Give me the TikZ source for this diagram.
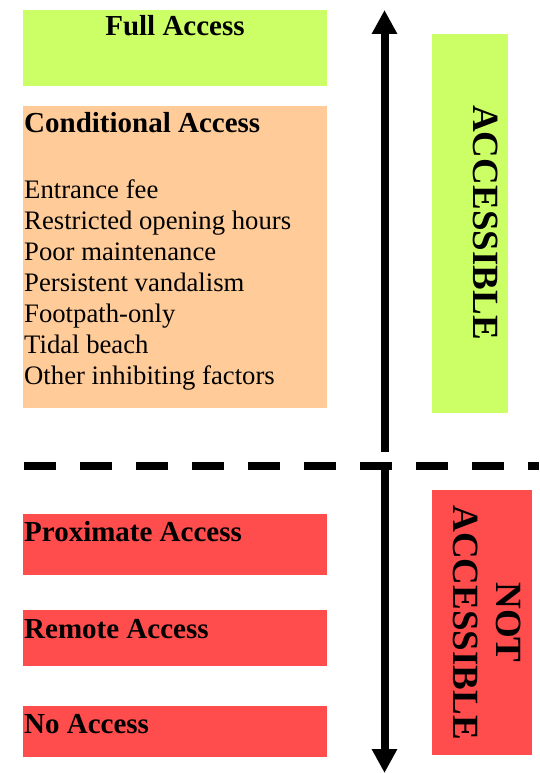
\documentclass[tikz,border=0pt]{standalone}
\usepackage{fontspec}
\setmainfont{Liberation Serif}
\usetikzlibrary{arrows.meta,calc,positioning}
\definecolor{fullgreen}{HTML}{CCFF66}
\definecolor{condpeach}{HTML}{FFCC99}
\definecolor{nored}{HTML}{FF4D4D}

\begin{document}
\begin{tikzpicture}[x=1pt,y=-1pt,
	zone/.style={inner sep=0pt,outer sep=0pt,anchor=north west},
	head/.style={font=\fontsize{29}{33}\selectfont\bfseries,inner sep=0pt,anchor=base west},
	item/.style={font=\fontsize{26.7}{31}\selectfont,inner sep=0pt,anchor=base west},
	side/.style={font=\fontsize{37}{43.5}\selectfont\bfseries,rotate=-90,align=center,inner sep=0pt},
	bar/.style={line width=8pt},
	tip/.style={-{Triangle[length=24pt,width=24pt]}}]
	\useasboundingbox (0,0) rectangle (539,773);
	% accessible side
	\node[zone,fill=fullgreen,minimum width=304pt,minimum height=76pt] (full) at (23,10) {};
	\node[head,anchor=base] (fulltxt) at ($(full.north)+(0,26)$) {Full Access};
	\node[zone,fill=condpeach,minimum width=304pt,minimum height=302pt] (cond) at (23,106) {};
	\node[head] (condtxt) at ($(cond.north west)+(1,26)$) {Conditional Access};
	\foreach \txt [count=\i from 0] in {Entrance fee,Restricted opening hours,Poor maintenance,
		Persistent vandalism,Footpath-only,Tidal beach,Other inhibiting factors}
		\node[item] (item\i) at ($(cond.north west)+(1,92+31*\i)$) {\txt};
	% not accessible side
	\node[zone,fill=nored,minimum width=304pt,minimum height=61pt] (prox) at (23,514) {};
	\node[head] (proxtxt) at ($(prox.north west)+(1,27)$) {Proximate Access};
	\node[zone,fill=nored,minimum width=304pt,minimum height=56pt] (remote) at (23,610) {};
	\node[head] (remotetxt) at ($(remote.north west)+(1,28)$) {Remote Access};
	\node[zone,fill=nored,minimum width=304pt,minimum height=51pt] (noacc) at (23,706) {};
	\node[head] (noacctxt) at ($(noacc.north west)+(1,27)$) {No Access};
	% side labels
	\node[zone,fill=fullgreen,minimum width=76pt,minimum height=379pt] (acc) at (432,34) {};
	\node[side] (acctxt) at ($(acc.center)+(15.5,-1)$) {ACCESSIBLE};
	\node[zone,fill=nored,minimum width=100pt,minimum height=265pt] (notacc) at (432,490) {};
	\node[side] (notacctxt) at ($(notacc.center)+(5,0)$) {NOT\\ACCESSIBLE};
	% divider and arrows
	\coordinate (dashL) at (24,466);
	\coordinate (dashR) at (539,466);
	\draw[bar,dash pattern=on 32pt off 24pt] (dashL) -- (dashR);
	\coordinate (uptop) at (384.5,10);
	\coordinate (upbot) at (384.5,452);
	\coordinate (downtop) at (384.5,462);
	\coordinate (downbot) at (384.5,773);
	\draw[bar,tip] (upbot) -- (uptop);
	\draw[bar,tip] (downtop) -- (downbot);
\end{tikzpicture}
\end{document}
